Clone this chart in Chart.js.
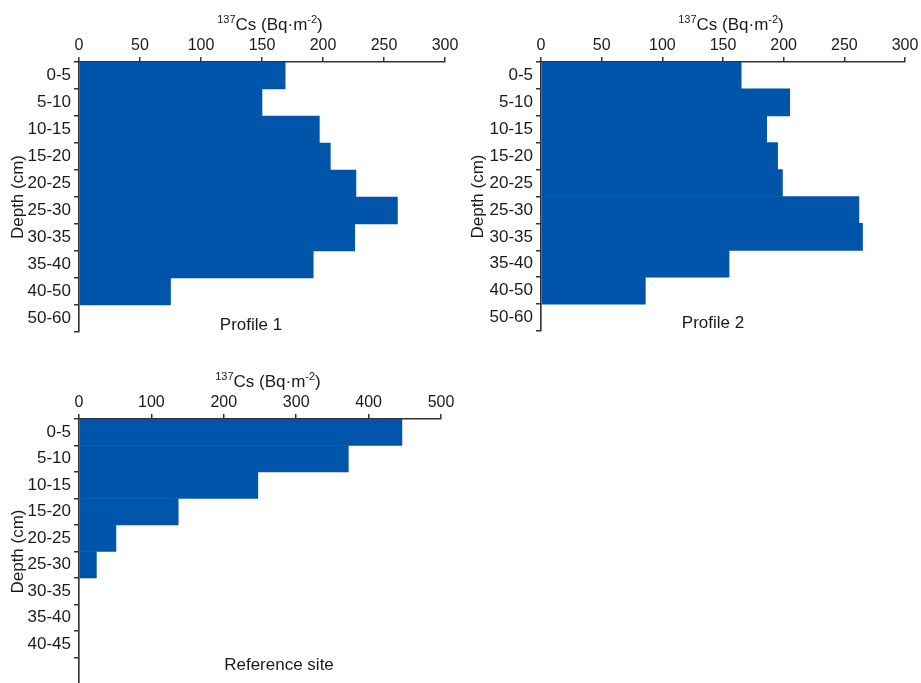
<!DOCTYPE html>
<html>
<head>
<meta charset="utf-8">
<script src="https://cdn.jsdelivr.net/npm/chart.js@4.4.1/dist/chart.umd.min.js"></script>
<style>
  body { margin: 0; background: #fff; width: 921px; height: 683px; overflow: hidden; position: relative; }
  canvas { position: absolute; }
</style>
</head>
<body>
<canvas id="p1" width="460" height="340" style="left:0;top:0"></canvas>
<canvas id="p2" width="461" height="340" style="left:460px;top:0"></canvas>
<canvas id="p3" width="460" height="324" style="left:0;top:360px"></canvas>
<script>
// depth layers (cm)
const profileDepths = ["0-5", "5-10", "10-15", "15-20", "20-25", "25-30", "30-35", "35-40", "40-50", "50-60"];
const refDepths = ["0-5", "5-10", "10-15", "15-20", "20-25", "25-30", "30-35", "35-40", "40-45", ""];

// 137Cs inventory per layer (Bq/m2)
const profile1Cs = [169, 150, 197, 206, 227, 261, 226, 192, 75, 0];
const profile2Cs = [165, 205, 186, 195, 199, 262, 265, 155, 86, 0];
const refCs = [446, 372, 247, 137, 51, 24, 0, 0, 0, 0];

const FONT = "'Liberation Sans', Arial, sans-serif";
const INK = "#1a1a1a";
const AXIS = "#333333";
const BAR = "#0055AB";

// draws the 137Cs (Bq·m-2) title with superscripts and the panel name
const panelText = {
  id: "panelText",
  afterDraw(chart, args, opts) {
    const { ctx, chartArea } = chart;
    ctx.save();
    ctx.fillStyle = INK;
    ctx.textBaseline = "alphabetic";
    ctx.textAlign = "left";

    const parts = [
      ["137", 11, -7],
      ["Cs (Bq·m", 17, 0],
      ["-2", 11, -7],
      [")", 17, 0],
    ];
    let total = 0;
    parts.forEach((p) => {
      ctx.font = `${p[1]}px ${FONT}`;
      total += ctx.measureText(p[0]).width;
    });
    let x = (chartArea.left + chartArea.right) / 2 + 8 - total / 2;
    const base = chartArea.top - 32;
    parts.forEach((p) => {
      ctx.font = `${p[1]}px ${FONT}`;
      ctx.fillText(p[0], x, base + p[2]);
      x += ctx.measureText(p[0]).width;
    });

    ctx.font = `17px ${FONT}`;
    ctx.textAlign = "center";
    ctx.fillText(opts.label, opts.labelX, opts.labelY);
    ctx.restore();
  },
};

function makeChart(id, labels, values, xMax, xStep, box, label) {
  const el = document.getElementById(id);
  return new Chart(el.getContext("2d"), {
    type: "bar",
    data: {
      labels: labels,
      datasets: [{
        data: values,
        backgroundColor: BAR,
        borderWidth: 0,
        categoryPercentage: 1,
        barPercentage: 1,
      }],
    },
    options: {
      indexAxis: "y",
      responsive: false,
      animation: false,
      layout: { padding: { left: 0, top: 0, right: box.right, bottom: box.bottom } },
      plugins: {
        legend: { display: false },
        tooltip: { enabled: false },
        panelText: label,
      },
      scales: {
        x: {
          type: "linear",
          position: "top",
          min: 0,
          max: xMax,
          afterFit(s) {
            s.height = box.top;
            s.paddingLeft = 0;
            s.paddingRight = 0;
          },
          ticks: { stepSize: xStep, color: INK, font: { family: FONT, size: 16 }, padding: 2 },
          grid: { drawOnChartArea: false, tickLength: 5, color: AXIS, lineWidth: 1.5 },
          border: { color: AXIS, width: 1.5 },
        },
        y: {
          type: "category",
          afterFit(s) {
            s.width = box.left;
            s.paddingTop = 0;
            s.paddingBottom = 0;
          },
          ticks: { color: INK, font: { family: FONT, size: 17 }, padding: 3, autoSkip: false },
          grid: { offset: true, drawOnChartArea: false, tickLength: 5, color: AXIS, lineWidth: 1.5 },
          border: { color: AXIS, width: 1.5 },
          title: {
            display: true,
            text: "Depth (cm)",
            color: INK,
            font: { family: FONT, size: 17 },
            padding: { top: 8, bottom: 0 },
          },
        },
      },
    },
    plugins: [panelText],
  });
}

makeChart("p1", profileDepths, profile1Cs, 300, 50,
  { left: 79, top: 62, right: 15, bottom: 8 },
  { label: "Profile 1", labelX: 251, labelY: 330 });

makeChart("p2", profileDepths, profile2Cs, 300, 50,
  { left: 81, top: 62, right: 16, bottom: 9 },
  { label: "Profile 2", labelX: 253, labelY: 328 });

makeChart("p3", refDepths, refCs, 500, 100,
  { left: 79, top: 59, right: 19, bottom: 0 },
  { label: "Reference site", labelX: 279, labelY: 310 });
</script>
</body>
</html>
